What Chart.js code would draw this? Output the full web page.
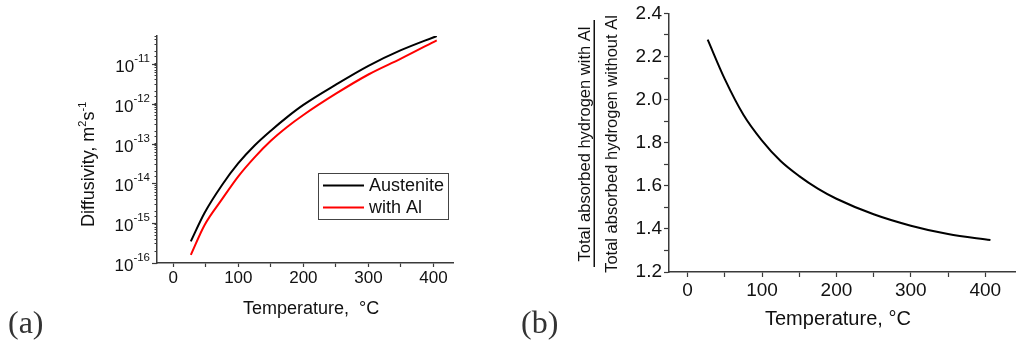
<!DOCTYPE html>
<html>
<head>
<meta charset="utf-8">
<script src="https://cdn.jsdelivr.net/npm/chart.js@4.4.1/dist/chart.umd.min.js"></script>
<style>
  body { margin: 0; background: #fff; }
  #wrap { position: relative; width: 1016px; height: 350px; overflow: hidden; }
  .panel { position: absolute; top: 0; height: 350px; }
  .tag { position: absolute; font-family: "Liberation Serif", "DejaVu Serif", serif; font-size: 32px; color: #333; }
</style>
</head>
<body>
<div id="wrap">
  <div class="panel" style="left:0;width:480px"><canvas id="chartA" width="480" height="350"></canvas></div>
  <div class="panel" style="left:480px;width:536px"><canvas id="chartB" width="536" height="350"></canvas></div>
  <div class="tag" style="left:8px;top:304px">(a)</div>
  <div class="tag" style="left:521px;top:304px">(b)</div>
</div>
<script>
// panel (a): hydrogen diffusivity vs temperature (log axis)
const tempA = [27, 48, 75, 100, 125, 150, 175, 200, 250, 300, 350, 405];
const austenite = [3.5e-16, 1.8e-15, 9.1e-15, 3.2e-14, 8.9e-14, 2.1e-13, 4.6e-13, 9.3e-13, 3.0e-12, 8.9e-12, 2.2e-11, 5.0e-11];
const withAl = [1.6e-16, 8.9e-16, 4.0e-15, 1.5e-14, 4.5e-14, 1.17e-13, 2.6e-13, 5.2e-13, 1.78e-12, 5.4e-12, 1.35e-11, 3.9e-11];
const seriesNames = ['Austenite', 'with Al'];
const decadeExps = [-16, -15, -14, -13, -12, -11];

// panel (b): ratio of total absorbed hydrogen
const tempB = [27, 50, 75, 100, 125, 150, 175, 200, 250, 300, 350, 407];
const ratio = [2.278, 2.095, 1.93, 1.81, 1.715, 1.645, 1.587, 1.54, 1.468, 1.415, 1.376, 1.348];

const FONT = '"Liberation Sans", Arial, sans-serif';
const AXIS = '#3a3a3a';
const INK = '#111';

function pts(xs, ys) {
  return xs.map((t, i) => ({x: t, y: ys[i]}));
}

const panelA = {
  id: 'panelA',
  afterDraw(chart) {
    const ctx = chart.ctx;
    const a = chart.chartArea;
    const y = chart.scales.y;
    ctx.save();
    ctx.fillStyle = INK;
    ctx.strokeStyle = AXIS;
    ctx.lineWidth = 1.2;
    // decade labels 10^n and longer ticks
    decadeExps.forEach(e => {
      const py = Math.round(y.getPixelForValue(Math.pow(10, e))) + 0.5;
      ctx.beginPath();
      ctx.moveTo(a.left - 5, py);
      ctx.lineTo(a.left, py);
      ctx.stroke();
      ctx.textBaseline = 'alphabetic';
      ctx.textAlign = 'left';
      ctx.font = '11.5px ' + FONT;
      const ew = ctx.measureText(String(e)).width;
      const ex = a.left - 7 - ew;
      ctx.fillText(String(e), ex, py - 3);
      ctx.font = '17px ' + FONT;
      ctx.textAlign = 'right';
      ctx.fillText('10', ex, py + 7);
    });

    // y title with superscripts
    ctx.save();
    ctx.translate(a.left - 63, a.bottom - 36);
    ctx.rotate(-Math.PI / 2);
    ctx.textAlign = 'left';
    ctx.textBaseline = 'alphabetic';
    let cx = 0;
    ctx.font = '18px ' + FONT;
    ctx.fillText('Diffusivity, m', cx, 0);
    cx += ctx.measureText('Diffusivity, m').width;
    ctx.font = '11px ' + FONT;
    ctx.fillText('2', cx, -8);
    cx += ctx.measureText('2').width;
    ctx.font = '18px ' + FONT;
    ctx.fillText('s', cx, 0);
    cx += ctx.measureText('s').width;
    ctx.font = '11px ' + FONT;
    ctx.fillText('-1', cx, -8);
    ctx.restore();

    // x title
    ctx.font = '18px ' + FONT;
    ctx.textAlign = 'left';
    ctx.fillText('Temperature,  \u00b0C', a.left + 86, a.bottom + 51);

    // legend box
    const bx = a.left + 161, by = a.top + 137;
    ctx.lineWidth = 1;
    ctx.strokeStyle = '#444';
    ctx.strokeRect(bx + 0.5, by + 0.5, 130, 46);
    const colors = [chart.data.datasets[0].borderColor, chart.data.datasets[1].borderColor];
    seriesNames.forEach((name, i) => {
      const ly = by + 12.5 + i * 22;
      ctx.strokeStyle = colors[i];
      ctx.lineWidth = 2;
      ctx.beginPath();
      ctx.moveTo(bx + 5, ly);
      ctx.lineTo(bx + 46, ly);
      ctx.stroke();
      ctx.font = '18px ' + FONT;
      ctx.textBaseline = 'middle';
      ctx.fillText(name, bx + 51, ly + 1);
    });
    ctx.restore();
  }
};

const panelB = {
  id: 'panelB',
  afterDraw(chart) {
    const ctx = chart.ctx;
    const a = chart.chartArea;
    ctx.save();
    ctx.fillStyle = INK;
    ctx.font = '20px ' + FONT;
    ctx.textAlign = 'left';
    ctx.textBaseline = 'alphabetic';
    ctx.fillText('Temperature, \u00b0C', a.left + 96, a.bottom + 53);

    // fraction as y title
    const cy = 144;
    ctx.font = '16.5px ' + FONT;
    ctx.textAlign = 'center';
    ctx.save();
    ctx.translate(a.left - 79.5, cy);
    ctx.rotate(-Math.PI / 2);
    ctx.fillText('Total absorbed hydrogen with Al', 0, 0);
    ctx.restore();
    ctx.save();
    ctx.translate(a.left - 52, cy);
    ctx.rotate(-Math.PI / 2);
    ctx.fillText('Total absorbed hydrogen without Al', 0, 0);
    ctx.restore();
    ctx.fillRect(a.left - 75.5, 20, 1.5, 247);
    ctx.restore();
  }
};

Chart.defaults.font.family = FONT;
Chart.defaults.color = INK;

new Chart(document.getElementById('chartA'), {
  type: 'line',
  data: {
    datasets: [
      {
        label: seriesNames[0],
        data: pts(tempA, austenite),
        borderColor: '#000000',
        borderWidth: 2,
        pointRadius: 0,
        cubicInterpolationMode: 'monotone'
      },
      {
        label: seriesNames[1],
        data: pts(tempA, withAl),
        borderColor: '#ff0000',
        borderWidth: 2,
        pointRadius: 0,
        cubicInterpolationMode: 'monotone'
      }
    ]
  },
  options: {
    responsive: false,
    animation: false,
    devicePixelRatio: 1,
    layout: {padding: {left: 0, top: 36, right: 27, bottom: 0}},
    plugins: {legend: {display: false}, tooltip: {enabled: false}},
    scales: {
      x: {
        type: 'linear',
        min: -25,
        max: 430,
        afterFit: s => { s.height = 87; },
        border: {display: true, color: AXIS, width: 1.5},
        grid: {display: true, drawOnChartArea: false, tickLength: 4, tickColor: AXIS, tickWidth: 1.2},
        ticks: {
          stepSize: 50,
          includeBounds: false,
          autoSkip: false,
          maxRotation: 0,
          padding: 1,
          font: {size: 17},
          callback: v => (v % 100 === 0 ? String(v) : '')
        }
      },
      y: {
        type: 'logarithmic',
        min: 1e-16,
        max: 5e-11,
        afterFit: s => { s.width = 157; },
        border: {display: true, color: AXIS, width: 1.5},
        grid: {display: true, drawOnChartArea: false, tickLength: 2.5, tickColor: AXIS, tickWidth: 1},
        ticks: {autoSkip: false, callback: () => ''}
      }
    }
  },
  plugins: [panelA]
});

new Chart(document.getElementById('chartB'), {
  type: 'line',
  data: {
    datasets: [
      {
        label: 'ratio',
        data: pts(tempB, ratio),
        borderColor: '#000000',
        borderWidth: 2,
        pointRadius: 0,
        cubicInterpolationMode: 'monotone'
      }
    ]
  },
  options: {
    responsive: false,
    animation: false,
    devicePixelRatio: 1,
    layout: {padding: {left: 0, top: 12, right: 1, bottom: 0}},
    plugins: {legend: {display: false}, tooltip: {enabled: false}},
    scales: {
      x: {
        type: 'linear',
        min: -25,
        max: 440,
        afterFit: s => { s.height = 78; },
        border: {display: true, color: AXIS, width: 1.5},
        grid: {display: true, drawOnChartArea: false, tickLength: 5, tickColor: AXIS, tickWidth: 1.2},
        ticks: {
          stepSize: 50,
          includeBounds: false,
          autoSkip: false,
          maxRotation: 0,
          padding: 2,
          font: {size: 19},
          callback: v => (v % 100 === 0 ? String(v) : '')
        }
      },
      y: {
        min: 1.2,
        max: 2.4,
        afterFit: s => { s.width = 189; },
        border: {display: true, color: AXIS, width: 1.5},
        grid: {display: true, drawOnChartArea: false, tickLength: 5, tickColor: AXIS, tickWidth: 1.2},
        ticks: {
          stepSize: 0.1,
          autoSkip: false,
          padding: 2,
          font: {size: 19},
          callback: v => {
            const r = Math.round(v * 10);
            return r % 2 === 0 ? (r / 10).toFixed(1) : '';
          }
        }
      }
    }
  },
  plugins: [panelB]
});
</script>
</body>
</html>
